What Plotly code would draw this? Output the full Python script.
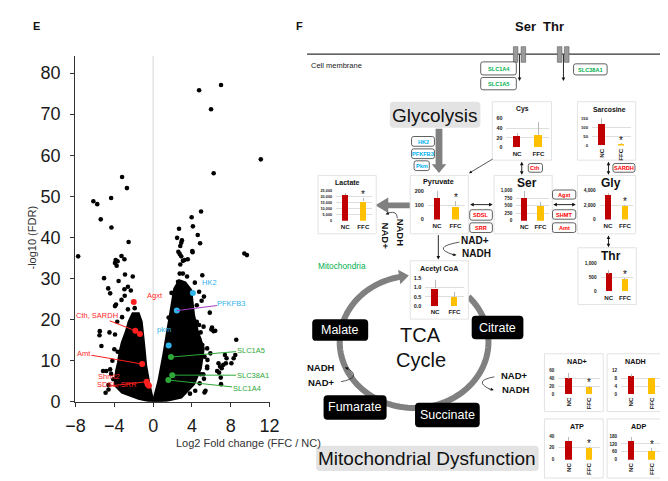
import math
import plotly.graph_objects as go

W, H = 668, 481
FONT = "Liberation Sans, Arial, sans-serif"


def X(px):
    return px / W


def Y(py):
    return 1 - py / H


# ====================== DATA ======================
# Panel E: volcano plot, individually visible genes (log2 FC FFC/NC, -log10 FDR)
volcano_fc = [
    4.74, 7.0, 5.97, 11.1, 6.24,
    -3.2, -2.7, -4.33, -6.16, -5.76, -5.4, -4.3, -2.53,
    4.94, 3.97, 4.1, 2.67, 4.6, 2.47, 2.97, 2.9, 2.8, 4.84, 4.04, 2.6, 2.74, 2.9, 9.4,
    -7.73, -3.86, -3.26, -2.96, -3.66, -3.93, -3.76, -2.9, -5.06, -2.1, -3.56, -4.63,
    -4.43, -2.96, -2.3, -2.6, -3.83, -2.93, -3.26, -3.93,
    -5.5, -5.53, -4.5, -3.93, -5.33, -5.16, -4.83, -4.6, -4.33, -4.1, -3.66, -4.43,
    9.67, 8.57, 6.24, 6.0, 5.84, 5.0, 5.24, 5.07, 4.07, 4.3, 3.24, 3.57, 3.07, 2.8,
    2.74, 3.07, 2.57, 2.4, 2.9, 3.24, 4.74,
    7.4, 7.57, 7.5, 7.24, 7.07, 6.8, 6.97, 7.0, 5.17, 5.24, 4.34, 8.3, 8.07, 8.47,
    5.2, 4.74, 4.57, 5.57, 4.5, 4.74, 4.4, 4.9, 6.07, 6.4, 6.74, 6.9, 6.6, 5.4, 5.3,
    4.24, 4.9, 5.57, 5.07, 5.57, 5.9, 3.9, 4.57,
    -4.2, -4.0, -3.7, -3.2, -2.6, -1.9, -4.6, -4.9,
    1.9, 3.5, 4.5, 5.3, 5.6, 4.8, 3.8, 1.6,
]
volcano_fdr = [
    75.8, 77.1, 71.2, 59.0, 55.6,
    54.7, 52.0, 49.6, 48.8, 48.1, 44.4, 42.4, 38.9,
    46.3, 44.9, 42.7, 42.1, 40.6, 39.9, 39.3, 38.7, 37.9, 38.6, 36.7, 36.5, 36.0, 35.4, 36.1,
    35.4, 34.5, 35.5, 34.7, 34.2, 33.8, 33.1, 31.0, 30.1, 30.5, 29.4, 27.6,
    26.4, 27.4, 27.1, 28.0, 23.7, 25.8, 24.8, 23.3,
    17.2, 16.2, 16.9, 16.4, 13.6, 7.5, 7.5, 4.1, 6.8, 5.5, 12.2, 7.9,
    35.7, 15.1, 17.2, 17.6, 21.7, 24.6, 25.6, 30.8, 36.4, 29.0, 34.5, 34.7, 34.3, 33.4,
    31.2, 31.2, 29.2, 27.6, 27.8, 28.6, 26.8,
    11.4, 10.6, 9.4, 9.0, 8.2, 7.1, 5.9, 4.3, 6.7, 5.6, 2.7, 10.6, 9.4, 11.4,
    18.3, 15.4, 13.0, 8.6, 19.5, 18.7, 17.7, 16.9, 18.1, 17.3, 9.4, 8.6, 7.5, 2.7, 2.3,
    5.9, 6.7, 8.2, 13.8, 13.0, 11.8, 10.6, 9.8,
    10.0, 12.8, 19.5, 20.6, 22.5, 22.8, 3.0, 2.2,
    26.5, 30.5, 23.5, 11.0, 10.2, 4.5, 2.0, 20.5,
]
# Outline of the solid black core of the cloud (down- and up-regulated genes)
cloud_down_fc = [0.0, -1.5, -3.2, -3.9, -3.9, -3.8, -3.6, -3.45, -3.2, -2.8, -2.5, -2.1, -1.5,
                 -1.2, -0.95, -0.75, -0.4, -0.1, 0.0]
cloud_down_fdr = [0.0, 0.8, 2.3, 4.0, 5.5, 7.5, 9.5, 12.0, 14.5, 17.0, 19.5, 21.5, 21.5,
                  19.5, 14.0, 9.0, 4.3, 1.0, 0.0]
cloud_up_fc = [0.0, 0.57, 1.07, 1.57, 1.9, 2.2, 2.7, 3.3, 3.9, 4.2, 4.6, 5.2, 4.9, 4.2, 2.9, 0.8, 0.0]
cloud_up_fdr = [0.0, 5.1, 11.4, 18.5, 24.0, 27.5, 29.5, 29.0, 27.2, 21.0, 17.0, 13.0, 8.2, 4.3, 1.1, 0.0, 0.0]

# Highlighted genes
hl_genes = ["Agxt", "Cth", "SARDH", "Amt", "Shmt2", "SDSL", "SRR", "HK2", "PFKFB3", "pkm",
            "SLC1A5", "SLC38A1", "SLC1A4"]
hl_fc = [-2.0, -1.83, -1.36, -1.13, -0.66, -0.56, -0.43, 4.1, 2.44, 1.6, 1.84, 1.97, 1.57]
hl_fdr = [24.3, 17.3, 16.5, 9.2, 4.9, 4.2, 3.9, 26.5, 22.2, 13.7, 10.9, 6.5, 5.3]
hl_class = ["ser_gly"] * 7 + ["glycolysis"] * 3 + ["transporter"] * 3

volcano_xticks = [-8, -4, 0, 4, 8, 12]
volcano_yticks = [0, 10, 20, 30, 40, 50, 60, 70, 80]

# Panel F: metabolite bar charts
groups = ["NC", "FFC"]
metabolites = ["Cys", "Sarcosine", "Lactate", "Pyruvate", "Ser", "Gly", "Thr", "Acetyl CoA",
               "NAD+", "NADH", "ATP", "ADP"]
nc_mean = [24, 118, 21300, 151, 760, 3420, 631, 0.94, 38.9, 8.9, 30.9, 139]
nc_sd = [6, 39, 1600, 45, 230, 310, 138, 0.42, 15, 1.2, 7.5, 31]
ffc_mean = [25, 8.6, 16100, 92, 506, 1930, 424, 0.48, 17, 8.1, 19.5, 70]
ffc_sd = [28, 3, 3250, 38, 129, 100, 69, 0.24, 4.9, 0.3, 2.1, 20]
significant = [False, True, True, True, False, True, True, False, True, False, True, True]
y_ticks = [[0, 20, 40, 60], [0, 50, 100, 150], [0, 5000, 10000, 15000, 20000, 25000],
           [0, 100, 200], [0, 250, 500, 750, 1000], [0, 2000, 4000], [0, 500, 1000],
           [0, 0.5, 1.0, 1.5], [0, 20, 40, 60], [0, 4, 8, 12], [0, 20, 40], [0, 60, 120, 180]]

# Panel F gene labels
panel_genes = ["SLC1A4", "SLC1A5", "SLC38A1", "HK2", "PFKFB3", "Pkm", "Cth", "SARDH",
               "SDSL", "SRR", "Agxt", "SHMT", "Amt"]
panel_gene_class = ["transporter"] * 3 + ["glycolysis"] * 3 + ["ser_gly"] * 7
tca_metabolites = ["Malate", "Citrate", "Fumarate", "Succinate"]

# ====================== STYLE / POSITIONS ======================
CLASS_COLOR = {"ser_gly": "#ff1f1f", "glycolysis": "#2fb4ea", "transporter": "#2ea83a"}
PANEL_CLASS_COLOR = {"ser_gly": "#ff0000", "glycolysis": "#00b0f0", "transporter": "#00b050"}
NC_COLOR, FFC_COLOR = "#c00000", "#ffc000"

# volcano axis: domain px [58.8, 259.8] x [46, 401.7]
VX0, VX1, VY0, VY1 = 58.8, 259.8, 401.7, 46
XR = [-8.05, 12.05]
YR = [0, 84.2]


def vx(fc):
    return VX0 + (fc - XR[0]) / (XR[1] - XR[0]) * (VX1 - VX0)


def vy(f):
    return VY0 - (f - YR[0]) / (YR[1] - YR[0]) * (VY0 - VY1)


fig = go.Figure()
shapes = []
anns = []

# ---------- Panel E ----------
for cfc, cfd in [(cloud_down_fc, cloud_down_fdr), (cloud_up_fc, cloud_up_fdr)]:
    fig.add_trace(go.Scatter(x=cfc, y=cfd, mode="lines", fill="toself", fillcolor="black",
                             line=dict(color="black", width=2.5), hoverinfo="skip",
                             xaxis="x", yaxis="y"))
fig.add_trace(go.Scatter(x=volcano_fc, y=volcano_fdr, mode="markers",
                         marker=dict(color="black", size=4.6, line=dict(width=0)),
                         cliponaxis=False, hoverinfo="skip", xaxis="x", yaxis="y"))
fig.add_trace(go.Scatter(x=hl_fc, y=hl_fdr, mode="markers",
                         marker=dict(color=[CLASS_COLOR[c] for c in hl_class], size=6, line=dict(width=0)),
                         cliponaxis=False, hoverinfo="skip", xaxis="x", yaxis="y"))

shapes.append(dict(type="line", xref="x", yref="y", x0=0, x1=0, y0=YR[0], y1=YR[1],
                   line=dict(color="#d6d6d6", width=1), layer="below"))

# volcano labels: (text, gene index, label px, label py, line colour or None)
volcano_labels = [
    ("Agxt", 0, 131, 292.3, None),
    ("Cth, SARDH", 1, 82.5, 313.7, "#ff1f1f"),
    ("Amt", 3, 69.7, 352.7, "#ff1f1f"),
    ("HK2", 7, 188, 279, None),
    ("PFKFB3", 8, 218.3, 301, "#a43cc0"),
    ("pkm", 9, 141.7, 333.7, None),
    ("SLC1A5", 10, 237.3, 349, "#2ea83a"),
    ("SLC38A1", 11, 239.3, 374.3, "#2ea83a"),
    ("SLC1A4", 12, 233.3, 387.7, "#2ea83a"),
]
for text_, gi, lx, ly, lc in volcano_labels:
    col = CLASS_COLOR[hl_class[gi]]
    if lc is None:
        anns.append(dict(x=X(lx), y=Y(ly), xref="paper", yref="paper", text=text_, showarrow=False,
                         font=dict(size=7.5, color=col, family=FONT)))
    else:
        anns.append(dict(x=hl_fc[gi], y=hl_fdr[gi], xref="x", yref="y", text=text_,
                         showarrow=True, arrowhead=0, arrowwidth=1, arrowcolor=lc, standoff=0,
                         ax=lx - vx(hl_fc[gi]), ay=ly - vy(hl_fdr[gi]),
                         font=dict(size=7.5, color=col, family=FONT), borderpad=0))
# Shmt2 / SDSL, SRR: two text lines, connector from between them
anns.append(dict(x=X(80), y=Y(382.3), xref="paper", yref="paper", text="Shmt2", showarrow=False,
                 font=dict(size=7.5, color=CLASS_COLOR["ser_gly"], family=FONT)))
anns.append(dict(x=X(79.7), y=Y(390.5), xref="paper", yref="paper", text="SDSL, SRR", showarrow=False,
                 font=dict(size=7.5, color=CLASS_COLOR["ser_gly"], family=FONT)))
anns.append(dict(x=hl_fc[4], y=hl_fdr[4], xref="x", yref="y", text="", showarrow=True, arrowhead=0,
                 arrowwidth=1, arrowcolor="#ff1f1f", standoff=0,
                 ax=93.3 - vx(hl_fc[4]), ay=385.5 - vy(hl_fdr[4])))

anns.append(dict(x=X(6), y=Y(233), xref="paper", yref="paper", text="-log10 (FDR)", textangle=-90,
                 showarrow=False, font=dict(size=11, color="#333", family=FONT)))
anns.append(dict(x=X(160.5), y=Y(452), xref="paper", yref="paper", text="Log2 Fold change (FFC / NC)",
                 showarrow=False, font=dict(size=11, color="#333", family=FONT)))
anns.append(dict(x=X(13), y=Y(7), xref="paper", yref="paper", text="<b>E</b>", showarrow=False,
                 font=dict(size=11, color="#111", family=FONT)))
anns.append(dict(x=X(290), y=Y(7), xref="paper", yref="paper", text="<b>F</b>", showarrow=False,
                 font=dict(size=11, color="#111", family=FONT)))

layout = dict(
    xaxis=dict(domain=[X(VX0), X(VX1)], range=XR, anchor="y", tickvals=volcano_xticks,
               showgrid=False, zeroline=False, showline=True, linecolor="#333", linewidth=1,
               ticks="outside", ticklen=4, tickcolor="#333", ticklabelstandoff=4,
               tickfont=dict(size=18, color="#1a1a1a", family=FONT), fixedrange=True),
    yaxis=dict(domain=[Y(VY0), Y(VY1)], range=YR, anchor="x", tickvals=volcano_yticks,
               showgrid=False, zeroline=False, showline=True, linecolor="#333", linewidth=1,
               ticks="outside", ticklen=4, tickcolor="#333", ticklabelstandoff=6,
               tickfont=dict(size=18, color="#1a1a1a", family=FONT), fixedrange=True),
)


# ---------- helpers for panel F ----------
def rrect(x0, y0, x1, y1, r):
    pts = [("M", [(x0 + r, y0)]), ("L", [(x1 - r, y0)]), ("Q", [(x1, y0), (x1, y0 + r)]),
           ("L", [(x1, y1 - r)]), ("Q", [(x1, y1), (x1 - r, y1)]), ("L", [(x0 + r, y1)]),
           ("Q", [(x0, y1), (x0, y1 - r)]), ("L", [(x0, y0 + r)]), ("Q", [(x0, y0), (x0 + r, y0)])]
    s = ""
    for cmd, ps in pts:
        s += cmd + " " + " ".join(f"{X(a):.5f},{Y(b):.5f}" for a, b in ps) + " "
    return s + "Z"


def poly(pts):
    return "M " + " L ".join(f"{X(a):.5f},{Y(b):.5f}" for a, b in pts) + " Z"


def qcurve(p0, p1, p2):
    return (f"M {X(p0[0]):.5f},{Y(p0[1]):.5f} Q {X(p1[0]):.5f},{Y(p1[1]):.5f} "
            f"{X(p2[0]):.5f},{Y(p2[1]):.5f}")


def arrow(xt, yt, xh, yh, both=False, w=0.9, size=0.8, color="#111"):
    d = dict(x=X(xh), y=Y(yh), xref="paper", yref="paper", ax=xt - xh, ay=yt - yh,
             axref="pixel", ayref="pixel", showarrow=True, text="", arrowhead=2,
             arrowsize=size, arrowwidth=w, arrowcolor=color, standoff=0, startstandoff=0)
    if both:
        d.update(arrowside="end+start", startarrowhead=2, startarrowsize=size)
    anns.append(d)


def text(x, y, t, size, color="#111", bold=False, angle=0, xanchor="center"):
    anns.append(dict(x=X(x), y=Y(y), xref="paper", yref="paper", text=(f"<b>{t}</b>" if bold else t),
                     showarrow=False, textangle=angle, xanchor=xanchor, yanchor="middle",
                     font=dict(size=size, color=color, family=FONT)))


# membrane and transporters
shapes.append(dict(type="line", xref="paper", yref="paper", x0=X(298), x1=X(668), y0=Y(44.3), y1=Y(44.3),
                   line=dict(color="#333", width=1.4)))
for a, b in [(510.7, 515.3), (518.7, 523.3), (556, 560.7), (563.3, 568)]:
    shapes.append(dict(type="rect", xref="paper", yref="paper", x0=X(a), x1=X(b), y0=Y(36.7), y1=Y(52.7),
                       fillcolor="#9a9a9a", line=dict(color="#6a6a6a", width=0.7)))
text(523.3, 16, "Ser", 13, bold=True)
text(552, 16, "Thr", 13, bold=True)
text(300, 56, "Cell membrane", 7.5, color="#222", xanchor="left")
arrow(517, 44, 517, 72)
arrow(562.3, 44, 562.3, 72)

# TCA ring (drawn first so boxes cover it)
cx, cy, rx, ry = 408.3, 340, 76.7, 68
ring = []
t = 100
while t <= 403:
    r = math.radians(t)
    ring.append((cx + rx * math.cos(r), cy - ry * math.sin(r)))
    t += 3
path = "M " + " L ".join(f"{X(a):.5f},{Y(b):.5f}" for a, b in ring)
shapes.append(dict(type="path", xref="paper", yref="paper", path=path,
                   line=dict(color="#808080", width=6), layer="below"))
r0 = math.radians(100)
P = (cx + rx * math.cos(r0), cy - ry * math.sin(r0))
dv = (rx * math.sin(r0), ry * math.cos(r0))
L = math.hypot(*dv)
dv = (dv[0] / L, dv[1] / L)
nv = (-dv[1], dv[0])
tip = (P[0] + 8 * dv[0], P[1] + 8 * dv[1])
bc = (P[0] - 2 * dv[0], P[1] - 2 * dv[1])
shapes.append(dict(type="path", xref="paper", yref="paper", layer="below",
                   path=poly([tip, (bc[0] + 7.5 * nv[0], bc[1] + 7.5 * nv[1]),
                              (bc[0] - 7.5 * nv[0], bc[1] - 7.5 * nv[1])]),
                   fillcolor="#808080", line=dict(width=0)))

# big gray arrows
shapes.append(dict(type="path", xref="paper", yref="paper", layer="below", fillcolor="#808080",
                   line=dict(width=0),
                   path=poly([(430.5, 121), (437.5, 121), (437.5, 157.5), (441.5, 157.5), (434, 166.5),
                              (426.5, 157.5), (430.5, 157.5)])))
shapes.append(dict(type="path", xref="paper", yref="paper", layer="below", fillcolor="#808080",
                   line=dict(width=0),
                   path=poly([(404, 196.7), (381.7, 196.7), (381.7, 191.7), (368.3, 199.7),
                              (381.7, 207.7), (381.7, 202.7), (404, 202.7)])))

# Glycolysis / Mitochondrial Dysfunction labels
shapes.append(dict(type="path", xref="paper", yref="paper", layer="below", path=rrect(383.3, 93.3, 476.7, 120, 4),
                   fillcolor="#e3e3e3", line=dict(width=0)))
text(430, 107, "Glycolysis", 19)
shapes.append(dict(type="path", xref="paper", yref="paper", layer="below",
                   path=rrect(307.3, 446.7, 536.7, 472.7, 4), fillcolor="#e3e3e3", line=dict(width=0)))
text(421.7, 460, "Mitochondrial Dysfunction", 19)

# TCA metabolite boxes
tca_pos = {"Malate": (303.3, 316.7, 361, 339), "Citrate": (467.7, 313.3, 521, 337.3),
           "Fumarate": (315, 395, 380, 420), "Succinate": (409.3, 402.7, 476, 427.7)}
for m in tca_metabolites:
    x0, y0, x1, y1 = tca_pos[m]
    shapes.append(dict(type="path", xref="paper", yref="paper", layer="below", path=rrect(x0, y0, x1, y1, 4),
                       fillcolor="#000", line=dict(width=0)))
    text((x0 + x1) / 2, (y0 + y1) / 2, m, 12.5, color="white")
text(415, 333.5, "TCA", 20)
text(415, 358.5, "Cycle", 20)
text(334, 262.3, "Mitochondria", 8.3, color="#00b050")

# NAD/NADH labels and small curved arrows
text(312.7, 366.7, "NADH", 9.5, bold=True)
text(312.7, 381.7, "NAD+", 9.5, bold=True)
text(512, 375, "NAD+", 9.5, bold=True)
text(513.5, 388.5, "NADH", 9.5, bold=True)
text(471.5, 236, "NAD+", 10, bold=True)
text(472.5, 249.5, "NADH", 10, bold=True)
text(394, 228, "NADH", 9.5, bold=True, angle=90)
text(378.5, 231, "NAD+", 9.5, bold=True, angle=90)
for p0, p1, p2, h0, h1 in [
    ((455, 237.5), (425, 243), (449, 250.5), (446, 250.3), (452, 250.8)),
    ((391, 213), (391, 205), (382, 207.5), (384, 207), (379, 209)),
    ((333, 381), (354, 377), (341, 368), (342.5, 368.5), (337, 366.5)),
    ((491, 376), (469, 380), (486, 388.5), (484, 388), (490.5, 389.5)),
]:
    shapes.append(dict(type="path", xref="paper", yref="paper", path=qcurve(p0, p1, p2),
                       line=dict(color="#111", width=0.7)))
    arrow(h0[0], h0[1], h1[0], h1[1], w=0.7, size=0.9)

# connecting arrows in the pathway
arrow(490, 151.7, 465, 166.7, w=0.7)
arrow(519.3, 153.8, 519.3, 168.3, both=True)
arrow(608.7, 153.8, 608.7, 168.3, both=True)
arrow(465.3, 199, 489.3, 199, both=True)
arrow(551, 199, 575, 199, both=True)
arrow(608.7, 229.5, 608.7, 242.8, both=True)
arrow(433.3, 229.5, 433.3, 255.5)

# gene boxes in panel F
gene_box = {"SLC1A4": (477, 52.3, 513.7, 65.7), "SLC1A5": (477, 68.3, 513.7, 81),
            "SLC38A1": (572.7, 54.3, 607.3, 65.7), "HK2": (405.7, 129, 429.3, 139),
            "PFKFB3": (405.7, 141.7, 429.3, 151.7), "Pkm": (408.3, 154, 424, 164),
            "Cth": (526, 156.7, 540.7, 165.7), "SARDH": (613.3, 156.7, 636, 165.7),
            "SDSL": (465.7, 204.3, 489, 215), "SRR": (465.7, 217.7, 489, 227.7),
            "Agxt": (551, 184, 575, 193.3), "SHMT": (551, 204.3, 575, 214), "Amt": (551, 217.7, 575, 227.7)}
for g, c in zip(panel_genes, panel_gene_class):
    x0, y0, x1, y1 = gene_box[g]
    shapes.append(dict(type="path", xref="paper", yref="paper", path=rrect(x0, y0, x1, y1, 2.2),
                       fillcolor="white", line=dict(color="#3a3a3a", width=0.8)))
    text((x0 + x1) / 2, (y0 + y1) / 2 + 0.3, g, 5.6, color=PANEL_CLASS_COLOR[c], bold=True)

# ---------- mini bar charts ----------
chart_pos = {
    "Cys": dict(box=(489, 93.3, 550, 153.3), xc=(514.5, 536.5), y0=140.3, yt=110.3, bw=7.6,
                tx=520, ty=101, ts=6.8, rot=False, tk=5.3, fmt=""),
    "Sarcosine": dict(box=(576.7, 93.3, 636.7, 153.3), xc=(601.7, 621.7), y0=138.3, yt=110.3, bw=6.7,
                      tx=610, ty=101, ts=6.8, rot=True, tk=4.2, fmt=""),
    "Lactate": dict(box=(309.3, 169, 369.3, 229), xc=(337.3, 356), y0=215.7, yt=184.7, bw=6.7,
                    tx=339.3, ty=176, ts=7, rot=False, tk=3.8, fmt=","),
    "Pyruvate": dict(box=(404.3, 169, 464.3, 229), xc=(432, 451), y0=214.3, yt=184.7, bw=6.7,
                     tx=433.3, ty=175.7, ts=7.3, rot=False, tk=5.5, fmt=""),
    "Ser": dict(box=(490.7, 169, 550.7, 229), xc=(522, 538.7), y0=215.7, yt=184.7, bw=6.7,
                tx=525, ty=176.5, ts=12, rot=False, tk=4.6, fmt=","),
    "Gly": dict(box=(576.7, 169, 636.7, 229), xc=(608.3, 625.7), y0=214.3, yt=184.7, bw=6.2,
                tx=611.7, ty=176.5, ts=12, rot=False, tk=4.8, fmt=","),
    "Thr": dict(box=(577.3, 243.3, 637.3, 301.7), xc=(609, 625.7), y0=288.3, yt=259.3, bw=6.2,
                tx=611, ty=252, ts=12, rot=False, tk=4.8, fmt=","),
    "Acetyl CoA": dict(box=(404.3, 256.7, 464.3, 316.7), xc=(430, 450), y0=303.3, yt=274, bw=6.7,
                       tx=434.3, ty=264.3, ts=7.2, rot=False, tk=5.5, fmt=".1f"),
    "NAD+": dict(box=(542.7, 352.3, 603.3, 411.7), xc=(567.7, 589), y0=394, yt=369.3, bw=6.7,
                 tx=576, ty=360, ts=7.2, rot=True, tk=4.6, fmt=""),
    "NADH": dict(box=(607.3, 352.3, 667.3, 411.7), xc=(632.3, 653.3), y0=394, yt=369.3, bw=6.7,
                 tx=637, ty=360, ts=7.2, rot=True, tk=4.6, fmt=""),
    "ATP": dict(box=(542.7, 419.3, 603.3, 480), xc=(567.7, 589), y0=461.3, yt=436.7, bw=6.7,
                tx=576.7, ty=426.7, ts=7.2, rot=True, tk=4.6, fmt=""),
    "ADP": dict(box=(607.3, 419.3, 667.3, 480), xc=(632.3, 653.3), y0=461.3, yt=436.7, bw=6.7,
                tx=640, ty=426.7, ts=7.2, rot=True, tk=4.6, fmt=""),
}

for i, m in enumerate(metabolites):
    k = i + 2
    p = chart_pos[m]
    bx0, by0, bx1, by1 = p["box"]
    shapes.append(dict(type="rect", xref="paper", yref="paper", x0=X(bx0), x1=X(bx1), y0=Y(by1), y1=Y(by0),
                       fillcolor="white", line=dict(color="#dcdcdc", width=0.8), layer="below"))
    text(p["tx"], p["ty"], m, p["ts"], bold=True)
    c0, c1 = p["xc"]
    d = c1 - c0
    fig.add_trace(go.Bar(
        x=groups, y=[nc_mean[i], ffc_mean[i]], width=p["bw"] / d,
        marker=dict(color=[NC_COLOR, FFC_COLOR], line=dict(width=0)),
        error_y=dict(type="data", symmetric=False, array=[nc_sd[i], ffc_sd[i]], arrayminus=[0, 0],
                     color="#a6a6a6", thickness=0.8, width=0),
        cliponaxis=False, hoverinfo="skip", xaxis=f"x{k}", yaxis=f"y{k}"))
    layout[f"xaxis{k}"] = dict(domain=[X(c0 - d / 2), X(c1 + d / 2)], anchor=f"y{k}", type="category",
                               range=[-0.5, 1.5], showgrid=False, zeroline=False, showline=False,
                               ticks="", tickangle=-90 if p["rot"] else 0, ticklabelstandoff=1,
                               tickfont=dict(size=6.2, color="#222", family=FONT, weight="bold"),
                               fixedrange=True)
    layout[f"yaxis{k}"] = dict(domain=[Y(p["y0"]), Y(p["yt"])], anchor=f"x{k}", range=[0, y_ticks[i][-1]],
                               tickvals=y_ticks[i], tickformat=p["fmt"], showgrid=True, gridcolor="#dedede",
                               gridwidth=0.6, zeroline=False, showline=False, ticks="", ticklabelstandoff=3,
                               tickfont=dict(size=p["tk"], color="#222", family=FONT, weight="bold"),
                               fixedrange=True)
    if significant[i]:
        anns.append(dict(x="FFC", y=ffc_mean[i] + ffc_sd[i], xref=f"x{k}", yref=f"y{k}", text="*",
                         showarrow=False, yanchor="middle", yshift=3,
                         font=dict(size=10, color="#111", family=FONT)))

layout.update(
    width=W, height=H, margin=dict(l=0, r=0, t=0, b=0, pad=0), showlegend=False,
    paper_bgcolor="white", plot_bgcolor="rgba(0,0,0,0)", bargap=0,
    shapes=shapes, annotations=anns, font=dict(family=FONT),
)
fig.update_layout(**layout)
fig.write_html("out.html", config={"displayModeBar": False})
